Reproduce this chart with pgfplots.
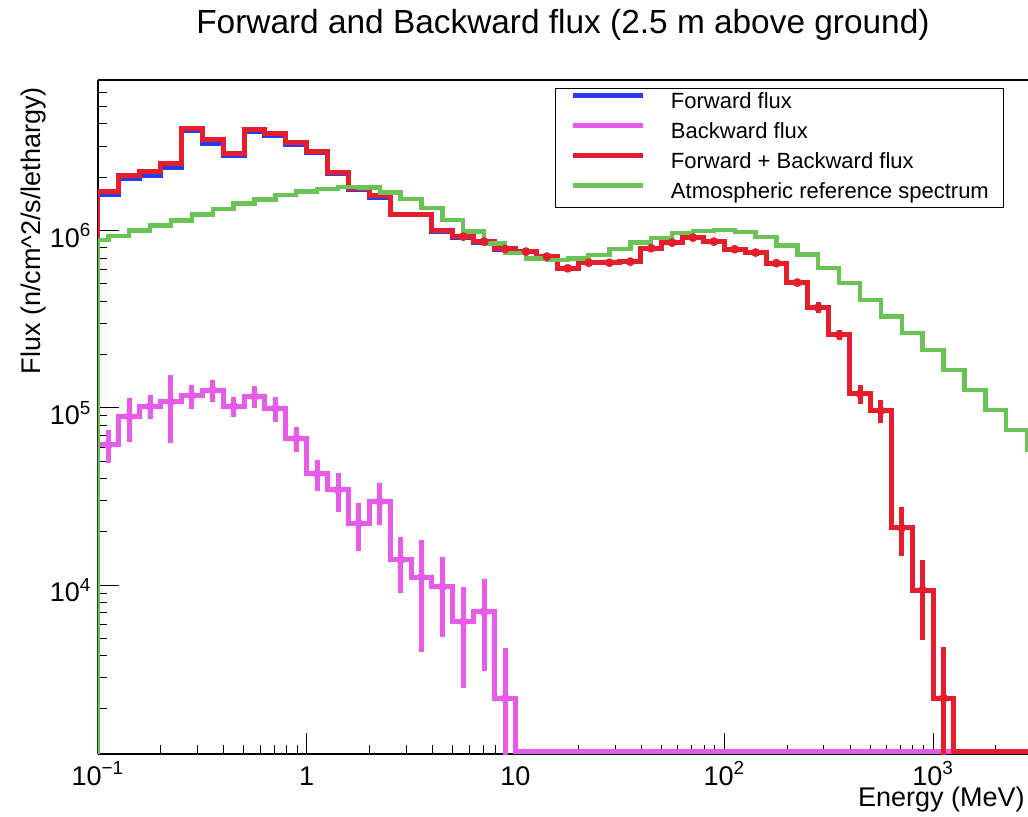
\documentclass[border=0pt]{standalone}
\usepackage{fontspec}
\setmainfont{Liberation Sans}
\usepackage{pgfplots}
\pgfplotsset{compat=1.18}
\usetikzlibrary{calc}

\definecolor{fwdblue}{RGB}{40,60,235}
\definecolor{bwdpink}{RGB}{232,90,232}
\definecolor{sumred}{RGB}{228,30,45}
\definecolor{atmgreen}{RGB}{105,195,85}

% ROOT histograms, 10 bins per decade; empty bins sit on the floor (1145)
\pgfplotstableread{
x y
0.1 1114
0.1 1.60e6
0.12589 1.97e6
0.15849 2.05e6
0.19953 2.27e6
0.25119 3.66e6
0.31623 3.12e6
0.39811 2.64e6
0.50119 3.61e6
0.63096 3.42e6
0.79433 3.07e6
1 2.77e6
1.2589 2.11e6
1.5849 1.70e6
1.9953 1.54e6
2.5119 1.23e6
3.1623 1.23e6
3.9811 9.90e5
5.0119 9.19e5
6.3096 8.60e5
7.9433 7.86e5
10 7.61e5
12.589 7.13e5
15.849 6.13e5
19.953 6.59e5
25.119 6.59e5
31.623 6.68e5
39.811 7.96e5
50.119 8.56e5
63.096 9.13e5
79.433 8.67e5
100 7.85e5
125.89 7.52e5
158.49 6.55e5
199.53 5.09e5
251.19 3.68e5
316.23 2.58e5
398.11 1.20e5
501.19 9.63e4
630.96 2.10e4
794.33 9.38e3
1000 2.30e3
1258.9 1145
3000 1145
}\fwd

\pgfplotstableread{
x y
0.1 1114
0.1 6.18e4
0.12589 8.91e4
0.15849 1.02e5
0.19953 1.08e5
0.25119 1.17e5
0.31623 1.26e5
0.39811 1.02e5
0.50119 1.16e5
0.63096 9.96e4
0.79433 6.73e4
1 4.24e4
1.2589 3.44e4
1.5849 2.23e4
1.9953 2.96e4
2.5119 1.39e4
3.1623 1.11e4
3.9811 9.79e3
5.0119 6.21e3
6.3096 7.08e3
7.9433 2.30e3
10 1145
3000 1145
}\bwd

\pgfplotstableread{
x y e
0.11220 6.18e4 1.3e4
0.14125 8.91e4 2.5e4
0.17783 1.02e5 1.6e4
0.22387 1.08e5 4.5e4
0.28184 1.17e5 1.8e4
0.35481 1.26e5 1.8e4
0.44668 1.02e5 1.3e4
0.56234 1.16e5 1.6e4
0.70795 9.96e4 1.6e4
0.89125 6.73e4 1.1e4
1.1220 4.24e4 8.4e3
1.4125 3.44e4 8.4e3
1.7783 2.23e4 6.7e3
2.2387 2.96e4 7.9e3
2.8184 1.39e4 4.9e3
3.5481 1.11e4 6.9e3
4.4668 9.79e3 4.7e3
5.6234 6.21e3 3.6e3
7.0795 7.08e3 3.8e3
8.9125 2.30e3 2.1e3
}\bwderr

\pgfplotstableread{
x y
0.1 1114
0.1 1.66e6
0.12589 2.06e6
0.15849 2.15e6
0.19953 2.38e6
0.25119 3.78e6
0.31623 3.25e6
0.39811 2.74e6
0.50119 3.73e6
0.63096 3.52e6
0.79433 3.14e6
1 2.81e6
1.2589 2.14e6
1.5849 1.72e6
1.9953 1.57e6
2.5119 1.24e6
3.1623 1.24e6
3.9811 1.00e6
5.0119 9.25e5
6.3096 8.67e5
7.9433 7.88e5
10 7.61e5
12.589 7.13e5
15.849 6.13e5
19.953 6.59e5
25.119 6.59e5
31.623 6.68e5
39.811 7.96e5
50.119 8.56e5
63.096 9.13e5
79.433 8.67e5
100 7.85e5
125.89 7.52e5
158.49 6.55e5
199.53 5.09e5
251.19 3.68e5
316.23 2.58e5
398.11 1.20e5
501.19 9.63e4
630.96 2.10e4
794.33 9.38e3
1000 2.30e3
1258.9 1145
3000 1145
}\sumflux

\pgfplotstableread{
x y e
5.6234 9.25e5 2.3e4
7.0795 8.67e5 2.2e4
8.9125 7.88e5 2.0e4
11.220 7.61e5 1.9e4
14.125 7.13e5 1.8e4
17.783 6.13e5 1.5e4
22.387 6.59e5 1.6e4
28.184 6.59e5 1.6e4
35.481 6.68e5 1.7e4
44.668 7.96e5 2.0e4
56.234 8.56e5 2.1e4
70.795 9.13e5 2.3e4
89.125 8.67e5 2.2e4
112.20 7.85e5 2.0e4
141.25 7.52e5 1.9e4
177.83 6.55e5 1.6e4
223.87 5.09e5 2.0e4
281.84 3.68e5 2.6e4
354.81 2.58e5 1.8e4
446.68 1.20e5 1.5e4
562.34 9.63e4 1.4e4
707.95 2.10e4 6.5e3
891.25 9.38e3 4.5e3
1122.0 2.30e3 2.2e3
}\sumerr

\pgfplotstableread{
x y
0.1 1114
0.1 8.87e5
0.11220 9.33e5
0.14125 1.00e6
0.17783 1.07e6
0.22387 1.14e6
0.28184 1.23e6
0.35481 1.32e6
0.44668 1.42e6
0.56234 1.50e6
0.70795 1.59e6
0.89125 1.66e6
1.1220 1.72e6
1.4125 1.76e6
1.7783 1.75e6
2.2387 1.64e6
2.8184 1.51e6
3.5481 1.34e6
4.4668 1.15e6
5.6234 9.87e5
7.0795 8.48e5
8.9125 7.45e5
11.220 6.98e5
14.125 6.84e5
17.783 6.98e5
22.387 7.29e5
28.184 7.85e5
35.481 8.56e5
44.668 9.06e5
56.234 9.67e5
70.795 9.96e5
89.125 1.01e6
112.20 9.79e5
141.25 9.18e5
177.83 8.23e5
223.87 7.35e5
281.84 6.14e5
354.81 5.07e5
446.68 4.07e5
562.34 3.27e5
707.95 2.64e5
891.25 2.12e5
1122.0 1.64e5
1412.5 1.26e5
1778.3 9.73e4
2238.7 7.50e4
2818.4 5.78e4
3548.1 5.78e4
}\atm

\begin{document}
\begin{tikzpicture}
\begin{axis}[
  scale only axis, width=465.05pt, height=337pt,
  xmode=log, ymode=log,
  xmin=0.1, xmax=2848, ymin=1114, ymax=7.08e6,
  axis x line*=bottom, axis y line*=left,
  axis line style={-, line width=0.8pt},
  tick align=inside, major tick length=10.5pt, minor tick length=4.5pt,
  tick style={black, line width=0.5pt},
  xtick={0.1,1,10,100,1000},
  xticklabels={10\textsuperscript{−1},1,10,10\textsuperscript{2},10\textsuperscript{3}},
  minor xtick={0.2,0.3,0.4,0.5,0.6,0.7,0.8,0.9,2,3,4,5,6,7,8,9,20,30,40,50,60,70,80,90,200,300,400,500,600,700,800,900,2000},
  ytick={1e4,1e5,1e6},
  yticklabels={10\textsuperscript{4},10\textsuperscript{5},10\textsuperscript{6}},
  minor ytick={2000,3000,4000,5000,6000,7000,8000,9000,2e4,3e4,4e4,5e4,6e4,7e4,8e4,9e4,2e5,3e5,4e5,5e5,6e5,7e5,8e5,9e5,2e6,3e6,4e6,5e6,6e6,7e6},
  ticklabel style={font=\fontsize{13.5}{16}\selectfont},
  xticklabel style={anchor=base, yshift=-15.5pt},
  yticklabel style={anchor=base east, inner xsep=0pt, xshift=-3pt, yshift=-8.3pt},
  title={Forward and Backward flux (2.5 m above ground)},
  title style={at={(axis description cs:0.5,1)}, anchor=base, yshift=17pt, font=\fontsize{16.7}{20}\selectfont},
  xlabel={Energy (MeV)},
  xlabel style={at={(axis description cs:1.004,-0.0786)}, anchor=base east, font=\fontsize{13.5}{16}\selectfont},
  ylabel={Flux (n/cm\textasciicircum2/s/lethargy)},
  ylabel style={at={(axis description cs:-0.0622,1)}, anchor=base east, font=\fontsize{13.5}{16}\selectfont},
  legend cell align=left,
  legend image code/.code={\draw[#1, line width=2.5pt] (0pt,3.6pt) -- (35pt,3.6pt); \path[draw=none] (0pt,0pt) -- (49pt,0pt);},
  legend style={at={(axis description cs:0.4913,0.9881)}, anchor=north west, draw=black, line width=0.6pt, fill=white,
    inner xsep=7.5pt, inner ysep=1.75pt, row sep=4pt, font=\fontsize{11}{13}\selectfont,
    nodes={inner sep=0pt, text height=8.25pt, text depth=2.75pt}},
]
\addplot[fwdblue, line width=2.5pt, const plot mark left] table[x=x, y=y] {\fwd};
\addlegendentry{Forward flux}
\addplot[bwdpink, line width=2.5pt, const plot mark left] table[x=x, y=y] {\bwd};
\addlegendentry{Backward flux}
\addplot[forget plot, bwdpink, only marks, mark=none,
  error bars/.cd, y dir=both, y explicit, error mark=none, error bar style={line width=2.5pt, bwdpink}]
  table[x=x, y=y, y error=e] {\bwderr};
\addplot[sumred, line width=2.5pt, const plot mark left] table[x=x, y=y] {\sumflux};
\addlegendentry{Forward + Backward flux}
\addplot[forget plot, sumred, only marks, mark=none,
  error bars/.cd, y dir=both, y explicit, error mark=none, error bar style={line width=2.5pt, sumred}]
  table[x=x, y=y, y error=e] {\sumerr};
\addplot[atmgreen, line width=2.2pt, const plot mark left] table[x=x, y=y] {\atm};
\addlegendentry{Atmospheric reference spectrum}
\end{axis}
\draw[line width=0.8pt] (current axis.north west) -- (current axis.north east);
\pgfresetboundingbox
\path[use as bounding box] ($(current axis.south west)+(-48.95pt,-31pt)$) rectangle ($(current axis.north east)+(0pt,40pt)$);
\end{tikzpicture}
\end{document}
